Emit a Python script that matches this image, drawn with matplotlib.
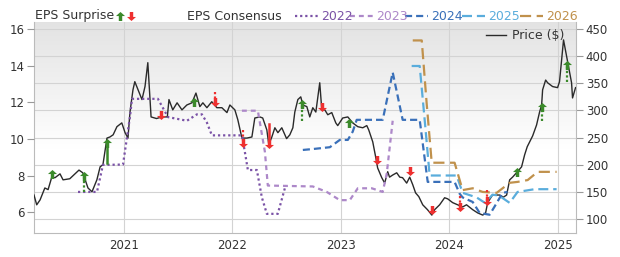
import matplotlib
matplotlib.use("Agg")
import matplotlib.pyplot as plt
import numpy as np
from matplotlib.path import Path
from matplotlib.lines import Line2D

# Price ($), decimal years
price_t = [2020.17, 2020.195, 2020.226, 2020.27, 2020.30, 2020.334, 2020.364, 2020.41, 2020.438, 2020.50,
           2020.585, 2020.62, 2020.668, 2020.705, 2020.75, 2020.78, 2020.806, 2020.843, 2020.87, 2020.90,
           2020.935, 2020.98,
           2021.01, 2021.037, 2021.055, 2021.083, 2021.10, 2021.13, 2021.166, 2021.194, 2021.22, 2021.25,
           2021.30, 2021.35, 2021.40, 2021.415, 2021.45, 2021.49, 2021.535, 2021.58, 2021.627, 2021.664,
           2021.70, 2021.728, 2021.765, 2021.81, 2021.857, 2021.903, 2021.95, 2021.977,
           2022.023, 2022.05, 2022.088, 2022.134, 2022.18, 2022.207, 2022.253, 2022.28, 2022.318, 2022.336,
           2022.364, 2022.392, 2022.42, 2022.456, 2022.484, 2022.50, 2022.53, 2022.558, 2022.576, 2022.604,
           2022.631, 2022.65, 2022.687, 2022.714, 2022.742, 2022.77, 2022.806, 2022.825, 2022.853, 2022.88,
           2022.917, 2022.954, 2022.972,
           2023.018, 2023.065, 2023.11, 2023.157, 2023.203, 2023.24, 2023.258, 2023.295, 2023.323, 2023.34,
           2023.378, 2023.405, 2023.433, 2023.45, 2023.48, 2023.516, 2023.544, 2023.57, 2023.608, 2023.636,
           2023.664, 2023.69, 2023.72, 2023.756, 2023.80, 2023.84, 2023.866, 2023.912, 2023.958, 2023.986,
           2024.032, 2024.078, 2024.124, 2024.16, 2024.217, 2024.263, 2024.31, 2024.336, 2024.355, 2024.40,
           2024.465, 2024.50, 2024.53, 2024.558, 2024.585, 2024.63, 2024.668, 2024.696, 2024.72, 2024.77,
           2024.806, 2024.834, 2024.853, 2024.862, 2024.89, 2024.908, 2024.954,
           2025.0, 2025.018, 2025.037, 2025.055, 2025.092, 2025.129, 2025.138, 2025.166]
price_v = [144, 126, 135, 157, 154, 177, 176, 183, 172, 174,
           190, 185, 157, 150, 172, 196, 200, 249, 251, 255,
           270, 277,
           259, 249, 296, 338, 353, 338, 320, 344, 388, 288,
           285, 288, 288, 320, 301, 314, 301, 310, 314, 332,
           307, 314, 305, 316, 305, 305, 296, 310,
           301, 283, 249, 249, 251, 286, 288, 286, 264, 237,
           251, 268, 259, 268, 255, 248, 255, 268, 297, 320,
           325, 310, 307, 288, 305, 297, 351, 301, 301, 292,
           296, 277, 272,
           286, 288, 277, 270, 268, 272, 264, 242, 213, 194,
           176, 166, 187, 177, 181, 185, 177, 176, 166, 177,
           163, 148, 141, 126, 117, 107, 117, 126, 139, 137,
           130, 126, 122, 126, 117, 111, 107, 111, 130, 144,
           144, 140, 144, 172, 177, 187, 196, 218, 233, 253,
           273, 297, 310, 338, 356, 351, 344,
           342, 353, 393, 430, 390, 351, 323, 342]

# EPS consensus by fiscal year
c2022_t = [2020.576, 2020.751, 2020.806, 2020.991, 2021.028, 2021.055, 2021.074, 2021.313, 2021.406, 2021.581,
           2021.673, 2021.719, 2021.765, 2021.811, 2022.088, 2022.115, 2022.143, 2022.226, 2022.272, 2022.318,
           2022.419, 2022.484, 2022.502]
c2022_v = [7.1, 7.1, 8.58, 8.6, 10.1, 11.2, 12.2, 12.2, 11.2, 11.0,
           11.35, 11.35, 10.9, 10.2, 10.2, 9.3, 8.3, 8.3, 6.8, 5.9,
           5.9, 7.3, 7.45]
c2023_t = [2022.088, 2022.235, 2022.30, 2022.327, 2022.742, 2022.871, 2022.991, 2023.083, 2023.157, 2023.286,
           2023.387, 2023.424, 2023.479]
c2023_v = [11.55, 11.55, 9.3, 7.45, 7.4, 7.1, 6.65, 6.65, 7.3, 7.3,
           7.1, 8.1, 11.0]
c2024_t = [2022.65, 2022.742, 2022.899, 2022.991, 2023.065, 2023.11, 2023.147, 2023.387, 2023.479, 2023.571,
           2023.728, 2023.802, 2024.05, 2024.097, 2024.124, 2024.217, 2024.281, 2024.373, 2024.419, 2024.493,
           2024.539]
c2024_v = [9.4, 9.45, 9.55, 9.95, 9.95, 10.4, 11.05, 11.05, 13.65, 11.05,
           11.05, 7.65, 7.65, 7.0, 6.8, 6.55, 5.95, 5.85, 6.3, 7.05,
           7.1]
c2025_t = [2023.654, 2023.728, 2023.774, 2023.82, 2024.069, 2024.124, 2024.253, 2024.33, 2024.40, 2024.46,
           2024.558, 2024.631, 2024.788, 2024.991]
c2025_v = [14.0, 14.0, 11.05, 8.0, 8.0, 7.05, 6.8, 6.5, 6.95, 6.9,
           6.5, 7.1, 7.25, 7.25]
c2026_t = [2023.664, 2023.747, 2023.793, 2023.839, 2024.05, 2024.124, 2024.217, 2024.309, 2024.438, 2024.493,
           2024.558, 2024.631, 2024.724, 2024.816, 2024.991]
c2026_v = [15.4, 15.4, 11.9, 8.7, 8.7, 7.2, 7.3, 7.1, 7.05, 7.3,
           7.6, 7.65, 7.75, 8.2, 8.2]

# EPS surprises: consensus -> reported
surprise_t = [2020.34, 2020.63, 2020.843, 2021.34, 2021.645, 2021.84, 2022.097, 2022.336, 2022.64, 2022.83,
              2023.08, 2023.33, 2023.636, 2023.84, 2024.10, 2024.345, 2024.63, 2024.853, 2025.09]
surprise_from = [8.0, 7.1, 8.7, 11.4, 11.9, 12.6, 10.5, 10.8, 11.0, 11.8,
                 10.8, 8.9, 8.3, 6.15, 6.9, 7.2, 8.1, 11.0, 13.1]
surprise_to = [8.1, 8.0, 9.8, 11.3, 12.0, 12.0, 9.8, 9.7, 11.9, 11.75,
               10.9, 8.85, 8.25, 6.1, 6.27, 6.6, 8.2, 11.75, 14.05]
surprise_dotted = [0, 1, 0, 0, 0, 1, 1, 0, 1, 0,
                   0, 0, 0, 0, 1, 1, 0, 1, 1]

years = [2021, 2022, 2023, 2024, 2025]
eps_ticks = [6, 8, 10, 12, 14, 16]
price_ticks = [100, 150, 200, 250, 300, 350, 400, 450]

colors = {
    '2022': '#7a52a6',
    '2023': '#ad88c9',
    '2024': '#3a70b9',
    '2025': '#5aaddc',
    '2026': '#c0914c',
    'price': '#2a2a2a',
    'up': '#3b8a2b',
    'down': '#ee3030',
    'grid': '#d3d3d3',
    'text': '#333333',
}
styles = {
    '2022': (0, (1, 1.3)),
    '2023': (0, (2.2, 1.8)),
    '2024': (0, (3.2, 1.8)),
    '2025': (0, (4.5, 2.2)),
    '2026': (0, (5, 2.5)),
}

# arrow markers
up_arrow = Path([(0, 1), (1, 0.1), (0.38, 0.1), (0.38, -1), (-0.38, -1), (-0.38, 0.1), (-1, 0.1), (0, 1)],
                [Path.MOVETO] + [Path.LINETO] * 6 + [Path.CLOSEPOLY])
down_arrow = Path([(x, -y) for x, y in up_arrow.vertices], up_arrow.codes)

plt.rcParams['font.family'] = 'DejaVu Sans'
fig = plt.figure(figsize=(6.2, 2.57), dpi=100)
ax = fig.add_axes([34 / 620, 24 / 257, 542 / 620, 211 / 257])

# gradient background
grad = np.linspace(0, 1, 256).reshape(-1, 1)
shade = np.clip(1 - grad / 0.6, 0, 1)
img = np.ones((256, 1, 3)) - 0.11 * shade[..., None] * np.ones((1, 1, 3))
ax.imshow(img, aspect='auto', extent=[0, 1, 0, 1], transform=ax.transAxes, origin='upper', zorder=0)

# price on the main axes
ax.plot(price_t, price_v, color=colors['price'], lw=1.0, zorder=3, label='Price ($)')
ax.set_xlim(2020.17, 2025.17)
ax.set_ylim(74, 463)
ax.set_yticks(price_ticks)
ax.set_xticks(years)
ax.set_xticklabels([str(y) for y in years])
ax.grid(True, color=colors['grid'], lw=0.8, zorder=1)
ax.set_axisbelow(True)
ax.tick_params(axis='x', length=0, labelsize=8.5, labelcolor=colors['text'], pad=4)
for s in ['left', 'right', 'bottom']:
    ax.spines[s].set_color('#bbbbbb')
ax.spines['top'].set_visible(False)
ax.legend(loc='upper right', bbox_to_anchor=(1.0, 1.02), frameon=False, fontsize=9,
          handlelength=1.6, handletextpad=0.5, labelcolor=colors['text'])

# EPS on the twin axes
ax2 = ax.twinx()
ax2.set_ylim(4.85, 16.41)
ax2.set_yticks(eps_ticks)
for s in ax2.spines.values():
    s.set_visible(False)

# price ticks on the right, EPS ticks on the left
ax.yaxis.tick_right()
ax2.yaxis.tick_left()
ax.tick_params(axis='y', length=5, color='#999999', labelsize=8.5, labelcolor=colors['text'], pad=2)
ax2.tick_params(axis='y', length=5, color='#999999', labelsize=8.5, labelcolor=colors['text'], pad=2)

series = [('2022', c2022_t, c2022_v), ('2023', c2023_t, c2023_v), ('2024', c2024_t, c2024_v),
          ('2025', c2025_t, c2025_v), ('2026', c2026_t, c2026_v)]
for name, t, v in series:
    ax2.plot(t, v, color=colors[name], linestyle=styles[name], lw=1.6, zorder=2)

for t, a, b, d in zip(surprise_t, surprise_from, surprise_to, surprise_dotted):
    c = colors['up'] if b >= a else colors['down']
    m = up_arrow if b >= a else down_arrow
    if abs(b - a) > 0.2:
        ax2.plot([t, t], [a, b], color=c, lw=1.8 if not d else 1.6,
                 linestyle=(0, (1, 1)) if d else '-', zorder=4)
    ax2.plot([t], [b], marker=m, markersize=6.5, color=c, markeredgewidth=0, zorder=5)

# top legend row
ty = 1 - 16 / 257
fig.text(35 / 620, ty, 'EPS Surprise', fontsize=9, color=colors['text'], va='center')
fig.add_artist(Line2D([120 / 620], [ty], marker=up_arrow, markersize=6.5, color=colors['up'],
                      markeredgewidth=0, transform=fig.transFigure))
fig.add_artist(Line2D([131 / 620], [ty], marker=down_arrow, markersize=6.5, color=colors['down'],
                      markeredgewidth=0, transform=fig.transFigure))
fig.text(187 / 620, ty, 'EPS Consensus', fontsize=9, color=colors['text'], va='center')
legend_x = {'2022': 295, '2023': 350, '2024': 405, '2025': 462, '2026': 520}
for name, _, _ in series:
    x0 = legend_x[name]
    fig.add_artist(Line2D([x0 / 620, (x0 + 23) / 620], [ty, ty], color=colors[name],
                          linestyle=styles[name], lw=1.6, transform=fig.transFigure))
    fig.text((x0 + 26) / 620, ty, name, fontsize=9, color=colors[name], va='center')

fig.savefig('out.png', dpi=100)
